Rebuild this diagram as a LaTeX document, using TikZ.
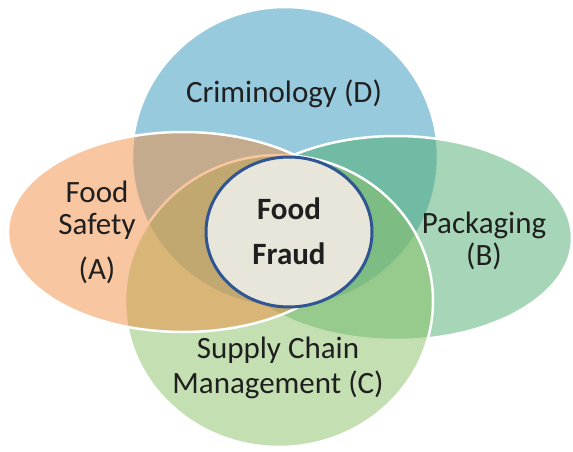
\documentclass[tikz,border=0pt]{standalone}
\usepackage{
	fontspec,			% Fonts
	tikz,
	xcolor
}
\setmainfont{Carlito}

\definecolor{crimeblue}{HTML}{3195BB}
\definecolor{packgreen}{HTML}{4DAD6F}
\definecolor{chaingreen}{HTML}{89BF63}
\definecolor{safetyorange}{HTML}{F18D41}
\definecolor{fraudfill}{HTML}{E8E6DA}
\definecolor{fraudline}{HTML}{2F5592}

\begin{document}
\begin{tikzpicture}[x=1pt,y=-1pt,
		venn/.style={fill opacity=0.5,draw=white,line width=2.5pt},
		vlabel/.style={text=black!88,align=center,inner sep=0pt,
			font=\fontsize{31}{32}\selectfont}]
		\useasboundingbox (0,0) rectangle (573,452);
		% the four fields
		\filldraw[venn,fill=crimeblue] (285,157) ellipse [x radius=153, y radius=150];
		\filldraw[venn,fill=packgreen] (396,238) ellipse [x radius=176, y radius=102];
		\filldraw[venn,fill=chaingreen] (279,301) ellipse [x radius=154, y radius=146];
		\filldraw[venn,fill=safetyorange] (183,232) ellipse [x radius=175, y radius=100];
		% centre
		\filldraw[fill=fraudfill,draw=fraudline,line width=3pt] (289,232) ellipse [x radius=83, y radius=75];
		\node[vlabel] (crim) at (284,94) {Criminology (D)};
		\node[vlabel] (safety) at (97,232) {Food\\Safety\\[13pt](A)};
		\node[vlabel] (pack) at (484,241) {Packaging\\(B)};
		\node[vlabel] (chain) at (278,368) {Supply Chain\\[3pt]Management (C)};
		\node[vlabel,font=\fontsize{31}{45}\selectfont\bfseries] (fraud) at (289,231) {Food\\Fraud};
	\end{tikzpicture}
\end{document}
